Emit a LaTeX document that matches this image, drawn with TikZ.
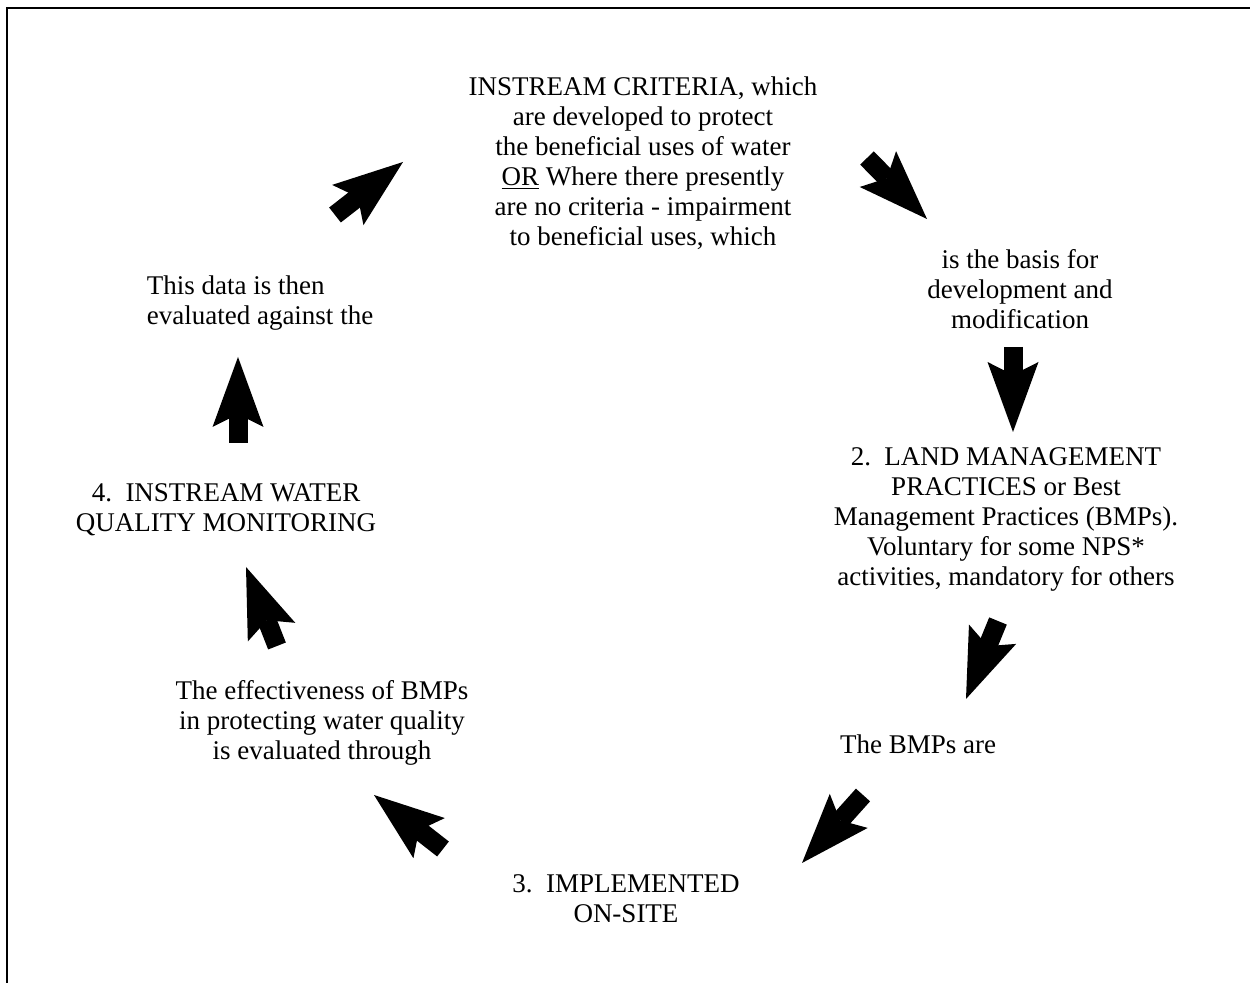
\documentclass[tikz,border=0pt]{standalone}
\usepackage{fontspec}
\setmainfont{Liberation Serif}
\usepackage{tikz}
\usetikzlibrary{arrows.meta}

\tikzset{
    step text/.style={align=center, inner sep=0pt, font=\fontsize{13.5}{15}\selectfont},
    cycle arrow/.style={line width=9.5pt, -{Stealth[length=35pt,width=25.5pt,inset=6.4pt,line width=0pt]}}
}

\begin{document}
\begin{tikzpicture}[x=0.5pt,y=-0.5pt]
    \useasboundingbox (0,0) rectangle (1250,983);

    % Frame (top and left edge only)
    \draw[line width=1pt] (7,983) -- (7,8) -- (1250,8);

    % Steps of the cycle
    \node[step text] (crit) at (643,163) {INSTREAM CRITERIA, which\\are developed to protect\\the beneficial uses of water\\\underline{OR} Where there presently\\are no criteria - impairment\\to beneficial uses, which};
    \node[step text] (basis) at (1020,289) {is the basis for\\development and\\modification};
    \node[step text] (land) at (1006,519) {2.\ \ LAND MANAGEMENT\\PRACTICES or Best\\Management Practices (BMPs).\\Voluntary for some NPS*\\activities, mandatory for others};
    \node[step text] (bmps) at (918,744) {The BMPs are};
    \node[step text] (impl) at (626,899) {3.\ \ IMPLEMENTED\\ON-SITE};
    \node[step text] (effect) at (322,723) {The effectiveness of BMPs\\in protecting water quality\\is evaluated through};
    \node[step text] (monit) at (226,510) {4.\ \ INSTREAM WATER\\QUALITY MONITORING};
    \node[step text, align=left] (data) at (260,303) {This data is then\\evaluated against the};

    % Arrow ends
    \coordinate (a1t) at (335,215); \coordinate (a1h) at (403,162);
    \coordinate (a2t) at (867,158); \coordinate (a2h) at (927,219);
    \coordinate (a3t) at (1013,347); \coordinate (a3h) at (1013,432);
    \coordinate (a4t) at (998,621); \coordinate (a4h) at (966,699);
    \coordinate (a5t) at (863,795); \coordinate (a5h) at (802,863);
    \coordinate (a6t) at (443,849); \coordinate (a6h) at (374,795);
    \coordinate (a7t) at (277,646); \coordinate (a7h) at (246,567);
    \coordinate (a8t) at (238,443); \coordinate (a8h) at (238,357);

    % Arrows
    \foreach \i in {1,...,8}
        \draw[cycle arrow] (a\i t) -- (a\i h);
\end{tikzpicture}
\end{document}
